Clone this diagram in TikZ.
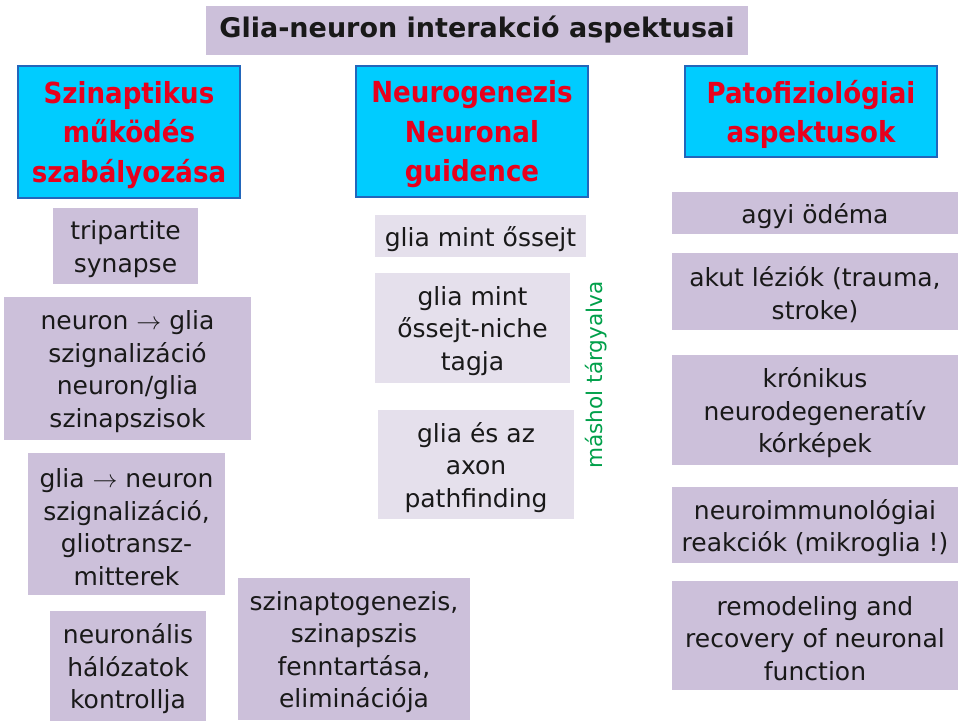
\documentclass[tikz,border=0pt]{standalone}
\usepackage{fontspec}
\setmainfont{DejaVu Sans}
\newfontfamily\condfont{DejaVu Sans Condensed}
\definecolor{headfill}{HTML}{00CCFF}
\definecolor{headdraw}{HTML}{2266BB}
\definecolor{headtext}{HTML}{E8001C}
\definecolor{lavdark}{HTML}{CCC0DA}
\definecolor{lavlight}{HTML}{E5E0EC}
\definecolor{greentext}{HTML}{00A04A}
\tikzset{
  box/.style={inner sep=0pt, align=center, text=black!90,
    font=\fontsize{25}{32.5}\selectfont},
  head/.style={box, fill=headfill, draw=headdraw, line width=2.5pt, text=headtext,
    font=\condfont\fontsize{29}{39.5}\selectfont\bfseries},
  lav/.style={box, fill=lavdark},
  lavl/.style={box, fill=lavlight},
  txt/.style={inner sep=0pt, align=center, fill=none, draw=none},
}
\newcommand{\bx}[7]{% style, name, x1, y1, x2, y2, text
  \node[#1, minimum width=#5pt-#3pt, minimum height=#6pt-#4pt] (#2) at ({(#3+#5)/2},{(#4+#6)/2}) {};
  \node[#1, txt] (#2-t) at ([yshift=-3pt]#2.center) {#7};}
\begin{document}
\begin{tikzpicture}[x=1pt,y=-1pt]
\useasboundingbox (0,0) rectangle (960,723);
\fill[white] (0,0) rectangle (960,723);
% title
\node[lav, minimum width=542pt, minimum height=49pt, font=\fontsize{27}{32}\selectfont\bfseries] (title) at (477,30) {Glia-neuron interakció aspektusai};
% headings
\bx{head}{h1}{18}{66}{240}{198}{Szinaptikus\\működés\\szabályozása}
\bx{head}{h2}{356}{66}{588}{197}{Neurogenezis\\Neuronal\\guidence}
\bx{head}{h3}{685}{66}{937}{157}{Patofiziológiai\\aspektusok}
% left column
\bx{lav}{l1}{53}{208}{198}{284}{tripartite\\synapse}
\bx{lav}{l2}{4}{297}{251}{440}{neuron $\rightarrow$ glia\\szignalizáció\\neuron/glia\\szinapszisok}
\bx{lav}{l3}{28}{453}{225}{595}{glia $\rightarrow$ neuron\\szignalizáció,\\gliotransz-\\mitterek}
\bx{lav}{l4}{50}{611}{206}{721}{neuronális\\hálózatok\\kontrollja}
% middle column
\bx{lavl}{m1}{375}{215}{586}{257}{glia mint őssejt}
\bx{lavl}{m2}{375}{273}{570}{383}{glia mint\\őssejt-niche\\tagja}
\bx{lavl}{m3}{378}{410}{574}{519}{glia és az\\axon\\pathfinding}
\bx{lav}{m4}{238}{578}{470}{720}{szinaptogenezis,\\szinapszis\\fenntartása,\\eliminációja}
\node[rotate=90, text=greentext, inner sep=0pt, font=\fontsize{21.6}{28}\selectfont] (mashol) at (596,375) {máshol tárgyalva};
% right column
\bx{lav}{r1}{672}{192}{958}{234}{agyi ödéma}
\bx{lav}{r2}{672}{253}{958}{330}{akut léziók (trauma,\\stroke)}
\bx{lav}{r3}{672}{355}{958}{465}{krónikus\\neurodegeneratív\\kórképek}
\bx{lav}{r4}{672}{487}{958}{563}{neuroimmunológiai\\reakciók (mikroglia !)}
\bx{lav}{r5}{672}{581}{958}{690}{remodeling and\\recovery of neuronal\\function}
\end{tikzpicture}
\end{document}
